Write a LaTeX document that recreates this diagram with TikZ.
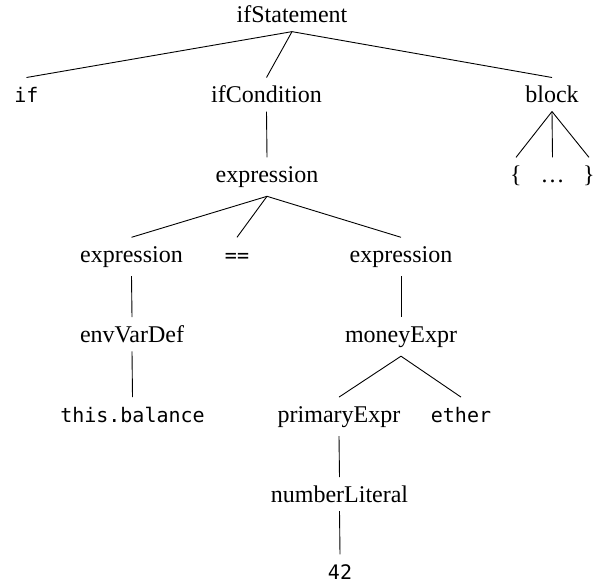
\documentclass[tikz,border=0pt]{standalone}
\usepackage{fontspec}
\setmainfont{Liberation Serif}
\newfontfamily\codefont{DejaVu Sans Mono}
\tikzset{
  nt/.style={anchor=base, inner sep=8.5pt, text height=16.4pt, font=\fontsize{24}{28}\selectfont},
  tk/.style={anchor=base, inner sep=8.5pt, text height=16.4pt, font=\codefont\fontsize{20}{24}\selectfont},
  edge/.style={line width=0.9pt}
}
\begin{document}
\begin{tikzpicture}[x=1pt,y=-1pt]
\useasboundingbox (0,0) rectangle (597,584);
% level 0
\node[nt] (root) at (292,22.7) {ifStatement};
% level 1
\node[tk] (if) at (26.5,102.6) {if};
\node[nt] (cond) at (266.5,102.6) {ifCondition};
\node[nt] (block) at (552,102.6) {block};
% level 2
\node[nt] (expr) at (267,182.5) {expression};
\node[nt] (lb) at (516,182.5) {\{};
\node[nt] (dots) at (552.5,182.5) {…};
\node[nt] (rb) at (589,182.5) {\}};
% level 3
\node[nt] (exprL) at (131.5,262.4) {expression};
\node[tk] (eq) at (237,262.4) {==};
\node[nt] (exprR) at (401,262.4) {expression};
% level 4
\node[nt] (env) at (132,342.3) {envVarDef};
\node[nt] (money) at (401,342.3) {moneyExpr};
% level 5
\node[tk] (this) at (132.5,422.2) {this.balance};
\node[nt] (prim) at (339,422.2) {primaryExpr};
\node[tk] (ether) at (461,422.2) {ether};
% level 6
\node[nt] (num) at (339.5,502.1) {numberLiteral};
% level 7
\node[tk] (ft) at (340,579.5) {42};
% edges
\draw[edge] (root.south) -- (if.north);
\draw[edge] (root.south) -- (cond.north);
\draw[edge] (root.south) -- (block.north);
\draw[edge] (cond.south) -- (expr.north);
\draw[edge] (block.south) -- (lb.north);
\draw[edge] (block.south) -- (dots.north);
\draw[edge] (block.south) -- (rb.north);
\draw[edge] (expr.south) -- (exprL.north);
\draw[edge] (expr.south) -- (eq.north);
\draw[edge] (expr.south) -- (exprR.north);
\draw[edge] (exprL.south) -- (env.north);
\draw[edge] (exprR.south) -- (money.north);
\draw[edge] (env.south) -- (this.north);
\draw[edge] (money.south) -- (prim.north);
\draw[edge] (money.south) -- (ether.north);
\draw[edge] (prim.south) -- (num.north);
\draw[edge] (num.south) -- (ft.north);
\end{tikzpicture}
\end{document}
